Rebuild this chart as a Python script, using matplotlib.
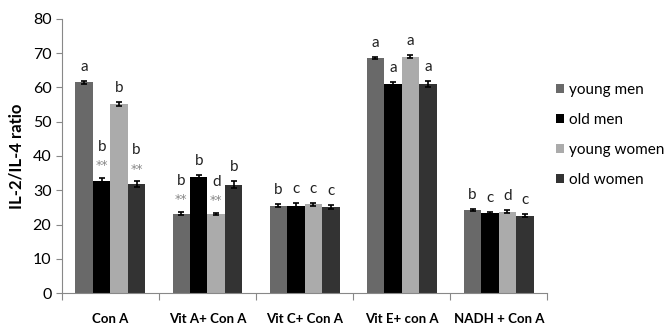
import matplotlib
matplotlib.use("Agg")
import matplotlib.pyplot as plt
import numpy as np

plt.rcParams['font.family'] = ['Lato', 'DejaVu Sans']

categories = ["Con A", "Vit A+ Con A", "Vit C+ Con A", "Vit E+ con A", "NADH + Con A"]
groups = ["young men", "old men", "young women", "old women"]
colors = ["#696969", "#000000", "#ababab", "#333333"]

young_men = [61.5, 23.2, 25.5, 68.6, 24.2]
old_men = [32.8, 33.8, 25.4, 61.1, 23.5]
young_women = [55.2, 23.2, 25.9, 69.0, 23.8]
old_women = [31.8, 31.6, 25.0, 61.0, 22.6]

young_men_err = [0.5, 0.5, 0.5, 0.4, 0.3]
old_men_err = [0.8, 0.7, 0.8, 0.5, 0.3]
young_women_err = [0.6, 0.3, 0.5, 0.5, 0.3]
old_women_err = [0.8, 1.0, 0.6, 0.8, 0.4]

young_men_lbl = ["a", "b", "b", "a", "b"]
old_men_lbl = ["b", "b", "c", "a", "c"]
young_women_lbl = ["b", "d", "c", "a", "d"]
old_women_lbl = ["b", "b", "c", "a", "c"]

# which bars carry the ** mark
young_men_star = [False, True, False, False, False]
old_men_star = [True, False, False, False, False]
young_women_star = [False, True, False, False, False]
old_women_star = [True, False, False, False, False]

values = [young_men, old_men, young_women, old_women]
errs = [young_men_err, old_men_err, young_women_err, old_women_err]
lbls = [young_men_lbl, old_men_lbl, young_women_lbl, old_women_lbl]
stars = [young_men_star, old_men_star, young_women_star, old_women_star]

fig = plt.figure(figsize=(6.65, 3.26), dpi=100)
ax = fig.add_axes([0.093, 0.101, 0.73, 0.841])

x = np.arange(len(categories)) + 0.5
w = 0.18
for k in range(4):
    pos = x + (k - 1.5) * w
    ax.bar(pos, values[k], w, color=colors[k], label=groups[k],
           yerr=errs[k], capsize=2.5, error_kw=dict(elinewidth=1.2, capthick=1.2, ecolor="black"))
    for i in range(len(categories)):
        top = values[k][i] + errs[k][i]
        if stars[k][i]:
            ax.annotate("**", (pos[i], top), xytext=(0, 12), textcoords="offset pixels",
                        ha="center", va="center", fontsize=9, color="#888888",
                        family="DejaVu Sans")
            ax.annotate(lbls[k][i], (pos[i], top), xytext=(0, 31), textcoords="offset pixels",
                        ha="center", va="center", fontsize=11, color="#222222")
        else:
            ax.annotate(lbls[k][i], (pos[i], top), xytext=(0, 14), textcoords="offset pixels",
                        ha="center", va="center", fontsize=11, color="#222222")

ax.set_xlim(0, 5)
ax.set_ylim(0, 80)
ax.set_yticks(range(0, 81, 10))
ax.set_xticks(np.arange(0, 6))
ax.set_xticklabels([])
ax.set_xticks(x, minor=True)
ax.set_xticklabels(categories, minor=True, fontweight="bold", fontsize=9.5)
ax.tick_params(axis="x", which="major", length=5, color="#888888")
ax.tick_params(axis="x", which="minor", length=0, pad=14)
ax.tick_params(axis="y", length=4, color="#888888", labelsize=11.5)
for s in ["top", "right"]:
    ax.spines[s].set_visible(False)
for s in ["left", "bottom"]:
    ax.spines[s].set_color("#888888")
ax.set_ylabel("IL-2/IL-4 ratio", fontweight="bold", fontsize=12, labelpad=6)

fig.legend(loc="upper left", bbox_to_anchor=(0.836, 0.745), frameon=False, fontsize=11,
           handlelength=0.5, handleheight=0.5, handletextpad=0.35, labelspacing=1.05,
           borderaxespad=0, borderpad=0)

fig.savefig("out.png", dpi=100)
